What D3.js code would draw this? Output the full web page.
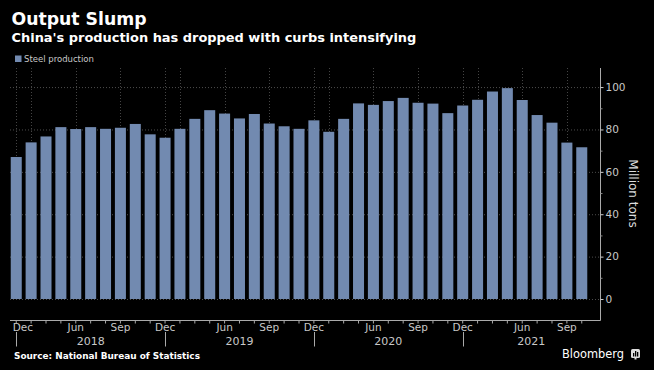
<!DOCTYPE html>
<html>
<head>
<meta charset="utf-8">
<script src="https://cdn.jsdelivr.net/npm/d3@7"></script>
<style>
  html, body { margin: 0; padding: 0; background: #000; }
  svg { display: block; }
  text { font-family: "DejaVu Sans", sans-serif; }
</style>
</head>
<body>
<div id="w"></div>
<script>
// months shown (Jan/Feb are not published separately)
var months = [
  "2017-12",
  "2018-03","2018-04","2018-05","2018-06","2018-07","2018-08","2018-09","2018-10","2018-11","2018-12",
  "2019-03","2019-04","2019-05","2019-06","2019-07","2019-08","2019-09","2019-10","2019-11","2019-12",
  "2020-03","2020-04","2020-05","2020-06","2020-07","2020-08","2020-09","2020-10","2020-11","2020-12",
  "2021-03","2021-04","2021-05","2021-06","2021-07","2021-08","2021-09","2021-10"
]
// steel production, million tons
var steel = [
  67.0,
  73.9, 76.7, 81.1, 80.2, 81.1, 80.3, 80.8, 82.6, 77.7, 76.1,
  80.3, 85.0, 89.1, 87.5, 85.2, 87.3, 82.8, 81.5, 80.3, 84.3,
  78.9, 85.0, 92.3, 91.6, 93.4, 94.9, 92.6, 92.2, 87.7, 91.3,
  94.0, 97.9, 99.5, 93.9, 86.8, 83.2, 73.8, 71.6
]
var monthNames = {"03":"Mar","06":"Jun","09":"Sep","12":"Dec"}
var labelled = ["06","09","12"]
var yTicks = [0,20,40,60,80,100]
var yMinor = [10,30,50,70,90]
var years = ["2018","2019","2020","2021"]
var yearStarts = ["2017-12","2018-12","2019-12","2020-12"]

var W = 654, H = 370
var svg = d3.select("#w").append("svg")
  .attr("width", W).attr("height", H)
svg.append("rect").attr("width", W).attr("height", H).attr("fill", "#000")

var x = d3.scaleBand().domain(months).range([8.8, 589.2])
  .paddingInner(0.26).paddingOuter(0.13)
var y = d3.scaleLinear().domain([0, 109]).range([299, 68])
var cx = function(m){ return x(m) + x.bandwidth()/2 }

// fit a text element to a given width by adjusting the font size
function fit(t, width) {
  var fs = parseFloat(t.attr("font-size"))
  var w = t.node().getComputedTextLength()
  t.attr("font-size", (fs * width / w).toFixed(2))
}

// titles
fit(svg.append("text").attr("x", 11.5).attr("y", 25)
  .attr("font-size", 17).attr("font-weight", "bold").attr("fill", "#fff")
  .text("Output Slump"), 135)
fit(svg.append("text").attr("x", 11.5).attr("y", 41.7)
  .attr("font-size", 14).attr("font-weight", "bold").attr("fill", "#fff")
  .text("China's production has dropped with curbs intensifying"), 405)

// legend
svg.append("rect").attr("x", 15).attr("y", 55.5).attr("width", 6.5).attr("height", 6.5)
  .attr("fill", "#728ab0")
fit(svg.append("text").attr("x", 24).attr("y", 62)
  .attr("font-size", 9).attr("fill", "#c8c8c8")
  .text("Steel production"), 70)

// grid
var grid = svg.append("g")
grid.selectAll("line.h").data(yTicks).enter().append("line")
  .attr("x1", 10).attr("x2", 600)
  .attr("y1", function(d){ return y(d) + 0.5 }).attr("y2", function(d){ return y(d) + 0.5 })
  .attr("stroke", "#4c4c4c").attr("stroke-dasharray", "1,2")
grid.selectAll("line.v").data(months.filter(function(m){ return monthNames[m.slice(5)] }))
  .enter().append("line")
  .attr("x1", function(m){ return Math.round(cx(m)) + 0.5 })
  .attr("x2", function(m){ return Math.round(cx(m)) + 0.5 })
  .attr("y1", 68).attr("y2", 299)
  .attr("stroke", "#444").attr("stroke-dasharray", "1,2")

// bars
svg.append("g").selectAll("rect").data(steel).enter().append("rect")
  .attr("x", function(d, i){ return x(months[i]) })
  .attr("width", x.bandwidth())
  .attr("y", function(d){ return y(d) })
  .attr("height", function(d){ return y(0) - y(d) })
  .attr("fill", "#728ab0")

// frame
svg.append("line").attr("x1", 10).attr("x2", 600.5).attr("y1", 320.5).attr("y2", 320.5)
  .attr("stroke", "#aaa")
svg.append("line").attr("x1", 600.5).attr("x2", 600.5).attr("y1", 68).attr("y2", 320.5)
  .attr("stroke", "#aaa")

// y axis
var yAxis = svg.append("g").attr("transform", "translate(600.5,0)")
  .call(d3.axisRight(y).tickValues(yTicks).tickSize(3).tickPadding(2))
yAxis.select(".domain").remove()
yAxis.selectAll(".tick line").attr("stroke", "#ccc")
yAxis.selectAll(".tick text").attr("fill", "#c8c8c8").attr("font-size", 10.5)
  .attr("font-family", "DejaVu Sans")
var yMin = svg.append("g").attr("transform", "translate(600.5,0)")
  .call(d3.axisRight(y).tickValues(yMinor).tickSize(2).tickFormat(""))
yMin.select(".domain").remove()
yMin.selectAll(".tick line").attr("stroke", "#888")

svg.append("text").attr("transform", "translate(629,193.5) rotate(90)")
  .attr("text-anchor", "middle").attr("font-size", 12).attr("fill", "#ddd")
  .text("Million tons")

// x axis
var xAxis = svg.append("g").attr("transform", "translate(0,320.5)")
  .call(d3.axisBottom(x).tickSize(3).tickPadding(0.5)
    .tickFormat(function(m){
      var mm = m.slice(5)
      return labelled.indexOf(mm) >= 0 ? monthNames[mm] : ""
    }))
xAxis.select(".domain").remove()
xAxis.selectAll(".tick line").attr("stroke", "#aaa")
xAxis.selectAll(".tick text").attr("fill", "#c8c8c8").attr("font-size", 10.5)
  .attr("font-family", "DejaVu Sans")
xAxis.select(".tick text").attr("text-anchor", "start").attr("dx", -3.5)

// year separators and labels
svg.append("g").selectAll("line").data(yearStarts).enter().append("line")
  .attr("x1", function(m){ return Math.round(cx(m)) + 0.5 })
  .attr("x2", function(m){ return Math.round(cx(m)) + 0.5 })
  .attr("y1", 332).attr("y2", 346.5).attr("stroke", "#aaa")
svg.append("g").selectAll("text").data(years).enter().append("text")
  .attr("x", function(d, i){
    var a = cx(yearStarts[i])
    var b = i + 1 < yearStarts.length ? cx(yearStarts[i + 1]) : 600
    return (a + b) / 2
  })
  .attr("y", 345).attr("text-anchor", "middle")
  .attr("font-size", 11).attr("fill", "#c8c8c8")
  .text(function(d){ return d })

// footer
fit(svg.append("text").attr("x", 14).attr("y", 358.5)
  .attr("font-size", 9.5).attr("font-weight", "bold").attr("fill", "#fff")
  .text("Source: National Bureau of Statistics"), 186)
fit(svg.append("text").attr("x", 562).attr("y", 358)
  .attr("font-size", 12).attr("fill", "#fff")
  .text("Bloomberg"), 62)
var logo = svg.append("g").attr("transform", "translate(631,349)")
logo.append("rect").attr("width", 9).attr("height", 9).attr("rx", 1.5).attr("fill", "#ddd")
logo.append("rect").attr("x", 2).attr("y", 4).attr("width", 1.3).attr("height", 3.5).attr("fill", "#000")
logo.append("rect").attr("x", 4).attr("y", 2).attr("width", 1.3).attr("height", 5.5).attr("fill", "#000")
logo.append("rect").attr("x", 6).attr("y", 3).attr("width", 1.3).attr("height", 4.5).attr("fill", "#000")
logo.append("rect").attr("x", 3.5).attr("y", 9).attr("width", 2).attr("height", 1.5).attr("fill", "#ddd")
</script>
</body>
</html>
